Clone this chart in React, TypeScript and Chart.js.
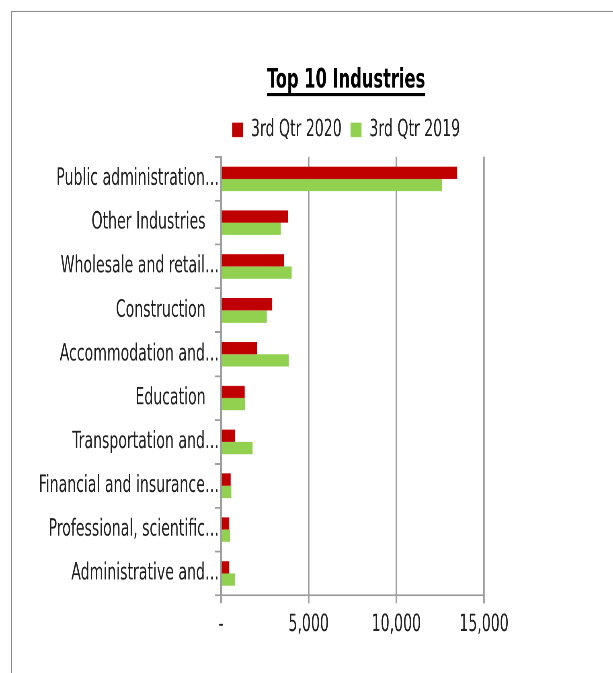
import React, { useEffect, useRef } from "react";
import { Chart, registerables } from "chart.js";

Chart.register(...registerables);

// ---- data ----
const categories = [
  "Public administration…",
  "Other Industries",
  "Wholesale and retail…",
  "Construction",
  "Accommodation and…",
  "Education",
  "Transportation and…",
  "Financial and insurance…",
  "Professional, scientific…",
  "Administrative and…",
];
const seriesLabels = ["3rd Qtr 2020", "3rd Qtr 2019"];
const values2020 = [13470, 3820, 3600, 2920, 2060, 1350, 810, 550, 470, 470];
const values2019 = [12600, 3410, 4030, 2610, 3860, 1380, 1800, 590, 510, 800];
const xTickValues = [0, 5000, 10000, 15000];
const titleText = "Top 10 Industries";

// ---- styling / geometry ----
const FONT = '"Liberation Sans Narrow", "Arial Narrow", "DejaVu Sans Condensed", sans-serif';
const SX = 0.804; // horizontal condensing of the drawing
const H = 561;
const SY = 673 / H;
const PLOT_LEFT = 221 / SX;
const PLOT_RIGHT = 484 / SX;
const TITLE_CENTER = 346 / SX;
const W = Math.round(TITLE_CENTER * 2);
const TEXT = "#202020";
const GRID = "#9d9d9d";
const TITLE_SIZE = 22.5;
const TITLE_PAD_TOP = 53.5;
const LEGEND_PAD = 11;

const underlinePlugin = {
  id: "titleUnderline",
  afterDraw(chart: any) {
    const tb = chart.titleBlock;
    if (!tb) return;
    const ctx = chart.ctx;
    ctx.save();
    ctx.font = `bold ${TITLE_SIZE}px ${FONT}`;
    const w = ctx.measureText(titleText).width;
    const cx = tb.left + tb.width / 2;
    const mid = tb.top + TITLE_PAD_TOP + (TITLE_SIZE * 1.2) / 2;
    ctx.fillStyle = "#000";
    ctx.fillRect(cx - w / 2, mid + 10.5, w, 2.6);
    ctx.restore();
  },
};

export default function App() {
  const ref = useRef<HTMLCanvasElement>(null);

  useEffect(() => {
    const canvas = ref.current;
    if (!canvas) return;
    const chart = new Chart(canvas, {
      type: "bar",
      data: {
        labels: categories,
        datasets: [
          {
            label: seriesLabels[0],
            data: values2020,
            backgroundColor: "#C00000",
            borderWidth: 0,
            categoryPercentage: 0.56,
            barPercentage: 1,
            xAxisID: "x",
            yAxisID: "y",
          },
          {
            label: seriesLabels[1],
            data: values2019,
            backgroundColor: "#92D050",
            borderWidth: 0,
            categoryPercentage: 0.56,
            barPercentage: 1,
            xAxisID: "x",
            yAxisID: "y",
          },
        ],
      },
      options: {
        indexAxis: "y",
        responsive: false,
        animation: false,
        devicePixelRatio: 2,
        layout: { padding: { left: 0, right: 0, top: 0, bottom: 24.75 } },
        plugins: {
          title: {
            display: true,
            text: titleText,
            color: "#000",
            font: { family: FONT, size: TITLE_SIZE, weight: "bold" },
            padding: { top: TITLE_PAD_TOP, bottom: 7 },
          },
          legend: {
            display: true,
            position: "top",
            labels: {
              color: TEXT,
              font: { family: FONT, size: 19.5 },
              boxWidth: 11 / SX,
              boxHeight: 12,
              padding: LEGEND_PAD,
            },
          },
          tooltip: { enabled: false },
        },
        scales: {
          x: {
            type: "linear",
            position: "bottom",
            min: 0,
            max: 15000,
            afterBuildTicks: (scale: any) => {
              scale.ticks = xTickValues.map((v) => ({ value: v }));
            },
            afterFit: (scale: any) => {
              scale.height = 40;
            },
            ticks: {
              color: TEXT,
              font: { family: FONT, size: 19.5 },
              padding: 6.5,
              maxRotation: 0,
              callback: (v: any) => (Number(v) === 0 ? "-" : Number(v).toLocaleString("en-US")),
            },
            grid: {
              display: true,
              drawOnChartArea: true,
              drawTicks: true,
              tickLength: 6.7,
              color: GRID,
              lineWidth: 1.9,
            },
            border: { display: true, color: GRID, width: 1.5 },
          },
          y: {
            type: "category",
            position: "left",
            afterFit: (scale: any) => {
              scale.width = PLOT_LEFT;
            },
            ticks: {
              color: TEXT,
              font: { family: FONT, size: 19.5 },
              padding: -5,
              autoSkip: false,
              callback: (_v: any, i: number) => {
                const s = categories[i];
                return s.endsWith("…") ? s : s + "   ";
              },
            },
            grid: {
              display: true,
              drawOnChartArea: false,
              drawTicks: true,
              tickLength: 6 / SX,
              color: GRID,
              lineWidth: 1.5,
            },
            border: { display: true, color: GRID, width: 1.9 },
          },
          xTop: {
            type: "linear",
            axis: "x",
            position: "top",
            display: true,
            grid: { display: false, drawTicks: false },
            ticks: { display: false },
            border: { display: false },
            afterFit: (scale: any) => {
              scale.height = 2.8;
            },
          },
          yRight: {
            type: "linear",
            axis: "y",
            position: "right",
            display: true,
            grid: { display: false, drawTicks: false },
            ticks: { display: false },
            border: { display: false },
            afterFit: (scale: any) => {
              scale.width = W - PLOT_RIGHT;
            },
          },
        },
      },
      plugins: [underlinePlugin],
    } as any);
    return () => chart.destroy();
  }, []);

  return (
    <div
      style={{
        position: "fixed",
        left: 0,
        top: 0,
        width: 613,
        height: 673,
        overflow: "hidden",
        background: "#fff",
      }}
    >
      <div
        style={{
          position: "absolute",
          left: 0,
          top: 0,
          width: W,
          height: H,
          transform: `scale(${SX}, ${SY})`,
          transformOrigin: "0 0",
        }}
      >
        <canvas ref={ref} width={W} height={H} style={{ display: "block", width: W, height: H }} />
      </div>
      <div
        style={{
          position: "absolute",
          left: 11,
          top: 11,
          width: 700,
          height: 700,
          border: "1px solid #8a8a8a",
          pointerEvents: "none",
        }}
      />
    </div>
  );
}
